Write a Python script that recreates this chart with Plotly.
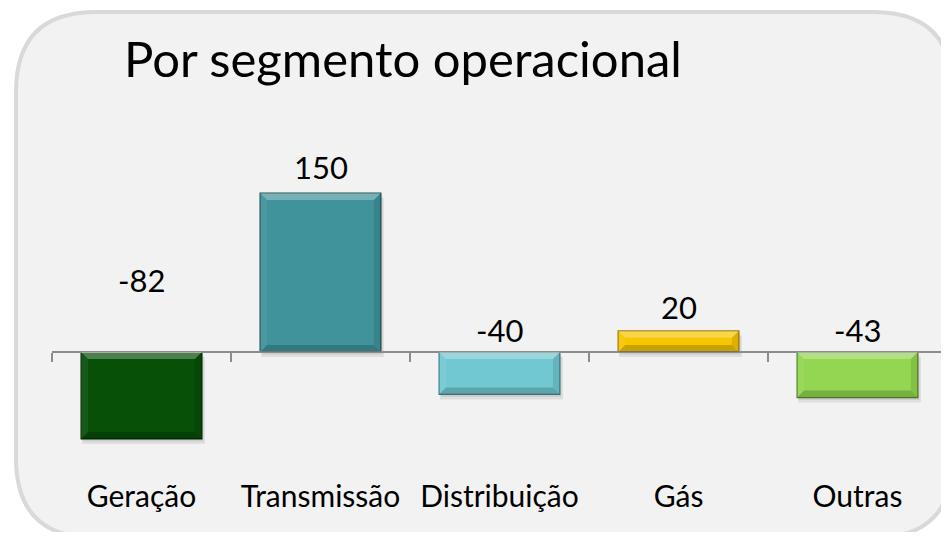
import plotly.graph_objects as go

categories = ["Geração", "Transmissão", "Distribuição", "Gás", "Outras"]
values = [-82, 150, -40, 20, -43]
labels = ["-82", "150", "-40", "20", "-43"]
title_text = "Por segmento operacional"

# styling
bar_colors = ["#075008", "#40939b", "#72c8d2", "#f7c600", "#93d651"]
bar_lines = ["#032803", "#1e4f54", "#3a7d86", "#9a7a00", "#4f7f22"]
label_shift_px = [72, 26, 22, 24, 22]

OFF = 8  # page body margin
W, H = 949 - OFF, 540 - 2 * OFF
L, T = 52 - OFF, 156 - OFF
PLOT_RIGHT, PLOT_BOTTOM = 947, 476  # screen px
R = W - (PLOT_RIGHT - OFF)
B = H - (PLOT_BOTTOM - OFF)
YMIN, YMAX = -117, 185
pw, ph = W - L - R, H - T - B
BAR_W = 0.675
ux = pw / len(categories)      # px per category
uy = ph / (YMAX - YMIN)        # px per unit


def px(xp):
    return (xp - OFF - L) / pw


def py(yp):
    return (H - B - (yp - OFF)) / ph


fig = go.Figure()

# rounded background panel
x0, x1, y0, y1 = px(16), px(953), py(12), py(538)
rx = 80 / pw
ry = 80 / ph
path = (f"M {x0+rx},{y0} L {x1-rx},{y0} Q {x1},{y0} {x1},{y0-ry} "
        f"L {x1},{y1+ry} Q {x1},{y1} {x1-rx},{y1} L {x0+rx},{y1} "
        f"Q {x0},{y1} {x0},{y1+ry} L {x0},{y0-ry} Q {x0},{y0} {x0+rx},{y0} Z")
fig.add_shape(type="path", path=path, xref="paper", yref="paper",
              fillcolor="#f2f2f2", line=dict(color="#d9d9d9", width=4),
              layer="below")

fig.add_trace(go.Bar(
    x=categories, y=values, width=BAR_W,
    marker=dict(color=bar_colors, line=dict(color=bar_lines, width=1.2)),
    hoverinfo="skip", xaxis="x", yaxis="y",
))
# invisible trace that carries the category labels axis
fig.add_trace(go.Scatter(x=categories, y=values, mode="none",
                         hoverinfo="skip", xaxis="x2", yaxis="y"))

# bevel and shadow decoration derived from the bar values
hw = BAR_W / 2
dx = 7 / ux
dy = 7 / uy
sdx = 3 / ux
sdy = 5 / uy
for i, v in enumerate(values):
    top, bot = max(v, 0), min(v, 0)
    a, b = i - hw, i + hw
    # shadow
    fig.add_shape(type="rect", xref="x", yref="y", layer="below",
                  x0=a + sdx * 0.3, x1=b + sdx, y0=bot - sdy, y1=top - sdy,
                  fillcolor="rgba(0,0,0,0.08)", line=dict(width=0))
    fig.add_shape(type="rect", xref="x", yref="y", layer="below",
                  x0=a + sdx * 0.6, x1=b + sdx * 0.5, y0=bot - sdy * 0.5,
                  y1=top - sdy * 0.5,
                  fillcolor="rgba(0,0,0,0.08)", line=dict(width=0))
    faces = [
        ([(a, top), (b, top), (b - dx, top - dy), (a + dx, top - dy)],
         "rgba(255,255,255,0.28)"),
        ([(a, bot), (b, bot), (b - dx, bot + dy), (a + dx, bot + dy)],
         "rgba(0,0,0,0.18)"),
        ([(a, top), (a + dx, top - dy), (a + dx, bot + dy), (a, bot)],
         "rgba(255,255,255,0.06)"),
        ([(b, top), (b - dx, top - dy), (b - dx, bot + dy), (b, bot)],
         "rgba(0,0,0,0.10)"),
    ]
    for pts, col in faces:
        p = "M " + " L ".join(f"{x},{y}" for x, y in pts) + " Z"
        fig.add_shape(type="path", path=p, xref="x", yref="y",
                      fillcolor=col, line=dict(width=0), layer="above")

for c, v, t, s in zip(categories, values, labels, label_shift_px):
    fig.add_annotation(x=c, y=max(v, 0), text=t, showarrow=False,
                       yshift=s, yanchor="middle", xanchor="center",
                       font=dict(family="Lato", size=31, color="#000000"))

fig.add_annotation(x=px(122), y=py(58), xref="paper", yref="paper",
                   text=title_text, showarrow=False, xanchor="left",
                   yanchor="middle",
                   font=dict(family="Lato", size=49, color="#000000"))

zero_pos = (0 - YMIN) / (YMAX - YMIN)

fig.update_layout(
    width=W, height=H,
    margin=dict(l=L, r=R, t=T, b=B),
    paper_bgcolor="#ffffff", plot_bgcolor="rgba(0,0,0,0)",
    showlegend=False,
    xaxis=dict(type="category", anchor="free", position=zero_pos,
               showticklabels=False, showgrid=False, zeroline=False,
               showline=True, linecolor="#8c8c8c", linewidth=2,
               ticks="outside", tickson="boundaries", ticklen=9,
               tickcolor="#8c8c8c", tickwidth=2),
    xaxis2=dict(type="category", overlaying="x", side="bottom", anchor="y",
                matches="x", showgrid=False, zeroline=False,
                showline=False, ticks="",
                tickfont=dict(family="Lato", size=30, color="#000000")),
    yaxis=dict(range=[YMIN, YMAX], visible=False, showgrid=False,
               zeroline=False),
)

fig.write_html("out.html")
